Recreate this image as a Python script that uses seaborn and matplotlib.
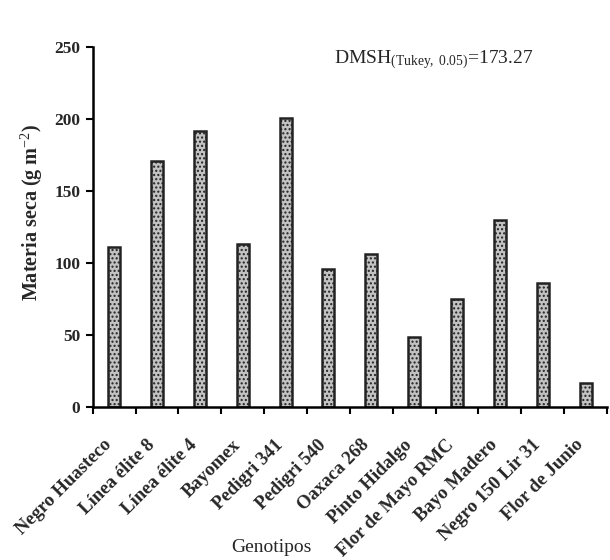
import pandas as pd
import matplotlib
matplotlib.use("Agg")
import matplotlib.pyplot as plt
import matplotlib.transforms as mtransforms
import seaborn as sns

genotipos = ["Negro Huasteco", "Línea élite 8", "Línea élite 4", "Bayomex",
             "Pedigri 341", "Pedigri 540", "Oaxaca 268", "Pinto Hidalgo",
             "Flor de Mayo RMC", "Bayo Madero", "Negro 150 Lir 31", "Flor de Junio"]
materia_seca = [111, 171, 192, 113, 201, 96, 106, 49, 75, 130, 86, 17]
y_ticks = [0, 50, 100, 150, 200, 250]

df = pd.DataFrame({"genotipo": genotipos, "materia": materia_seca})

sns.set_theme(style="ticks")
plt.rcParams["font.family"] = ["Liberation Serif", "DejaVu Serif"]
plt.rcParams["mathtext.fontset"] = "custom"
plt.rcParams["mathtext.rm"] = "Liberation Serif"
plt.rcParams["mathtext.it"] = "Liberation Serif:italic"
plt.rcParams["hatch.color"] = "#8f8f8f"

fig = plt.figure(figsize=(6.1, 5.6), dpi=100)
ax = fig.add_axes([0.152, 0.273, 0.843, 0.643])

sns.barplot(x="genotipo", y="materia", data=df, color="#c2c2c2", width=0.28,
            edgecolor="#222222", linewidth=1.8, saturation=1, ax=ax)
for p in ax.patches:
    p.set_hatch("....")

ax.set_xlim(-0.5, len(genotipos) - 0.5)
ax.set_ylim(0, 250)
ax.set_yticks(y_ticks)
ax.set_yticklabels([str(v) for v in y_ticks], fontsize=12.5, fontweight="bold")

ax.set_xticks(range(len(genotipos)))
ax.set_xticklabels(genotipos, rotation=45, ha="right", rotation_mode="anchor",
                   fontsize=13.5, fontweight="bold")
ax.tick_params(axis="x", which="major", length=0, pad=21)
shift = mtransforms.ScaledTranslation(-8 / 72, 0, fig.dpi_scale_trans)
for lab in ax.get_xticklabels():
    lab.set_transform(lab.get_transform() + shift)
ax.set_xticks([i - 0.5 for i in range(len(genotipos) + 1)], minor=True)
ax.tick_params(axis="x", which="minor", length=5, width=1.5, color="black", direction="out")
ax.tick_params(axis="y", length=5, width=1.5, color="black", direction="out", pad=4)

for s in ["top", "right"]:
    ax.spines[s].set_visible(False)
for s in ["left", "bottom"]:
    ax.spines[s].set_linewidth(1.8)
    ax.spines[s].set_color("black")

ax.set_ylabel("Materia seca (g m$^{-2}$)", fontsize=14.5, fontweight="bold")
ax.yaxis.set_label_coords(-0.092, 0.54)
ax.set_xlabel("Genotipos", fontsize=14)
ax.xaxis.set_label_coords(0.348, -0.365)

ax.text(0.47, 0.965, "DMSH$_{\\mathrm{(Tukey,\\ 0.05)}}$=173.27", transform=ax.transAxes,
        fontsize=14, va="center", ha="left")

fig.savefig("out.png", dpi=100)
